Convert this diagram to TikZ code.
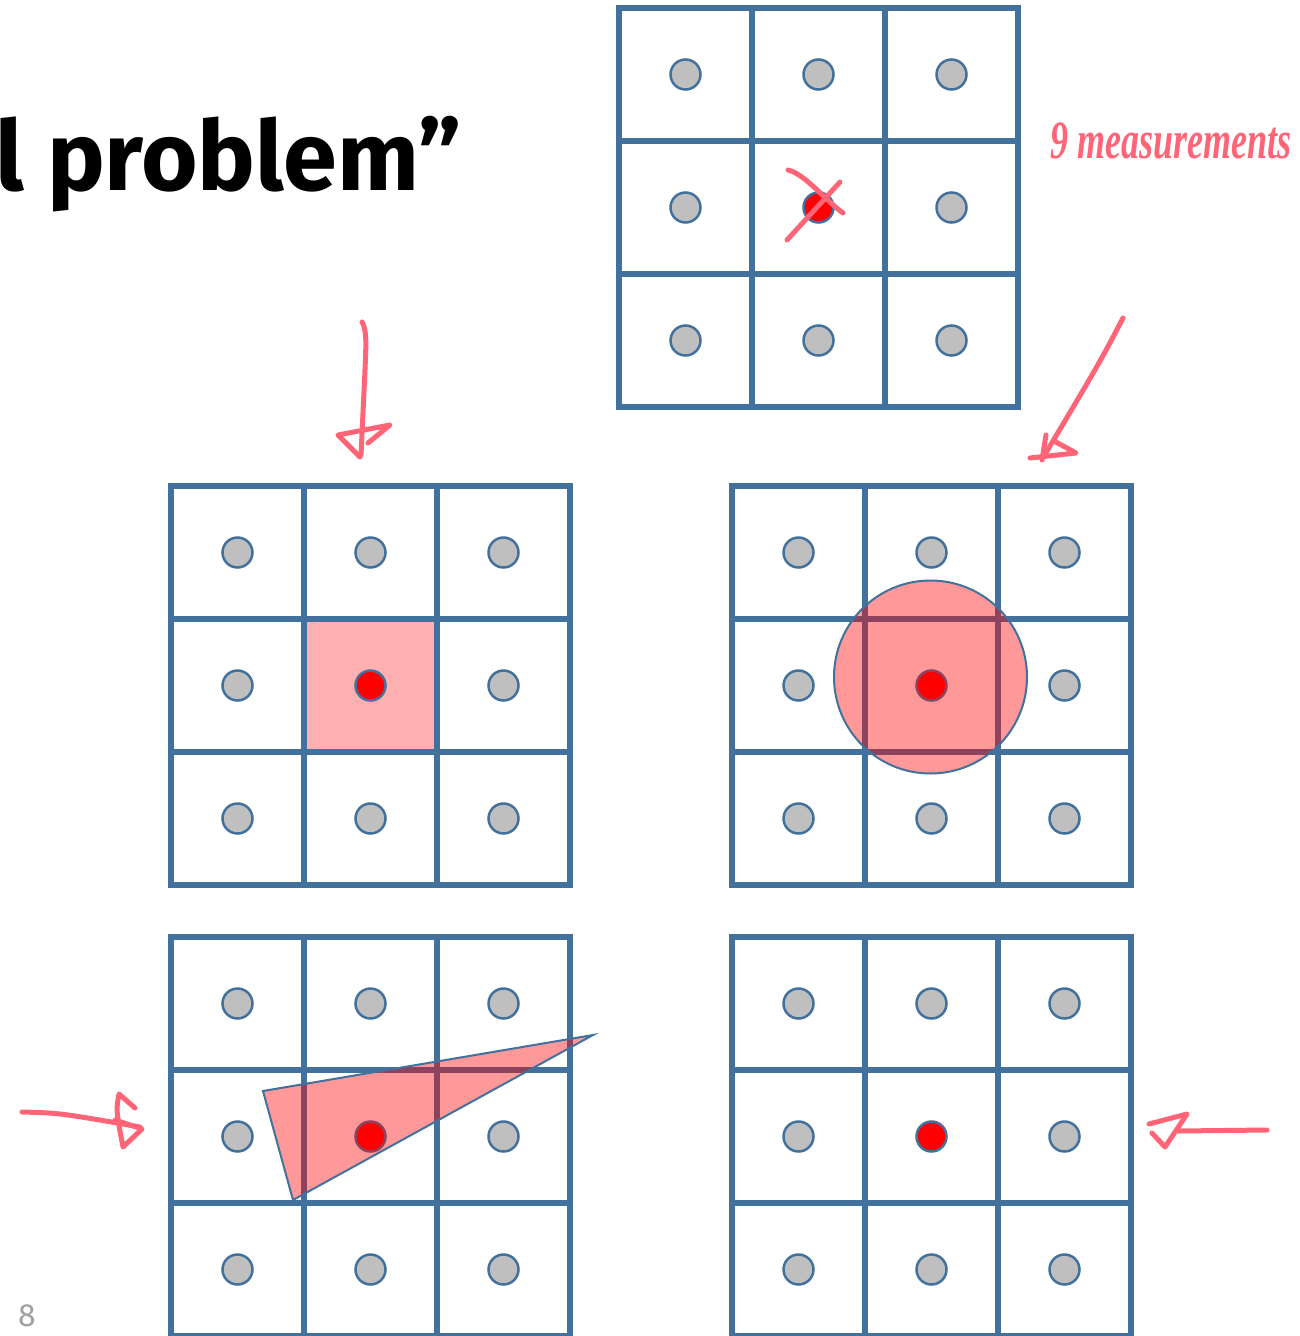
\documentclass[tikz,border=0pt]{standalone}
\usepackage{fontspec}
\setmainfont{Fira Sans}
\newfontfamily\handfont{Liberation Serif}
\definecolor{gridblue}{HTML}{41719C}
\definecolor{dotgray}{HTML}{BFBFBF}
\definecolor{ink}{HTML}{FF6577}
\definecolor{cellpink}{HTML}{FFB0B0}
\definecolor{pagegray}{HTML}{A0A0A0}
\tikzset{
  gridline/.style={draw=gridblue, line width=5.5pt},
  sensor/.style={circle, draw=gridblue, fill=dotgray, line width=2.5pt, minimum size=30pt, inner sep=0pt},
  targetdot/.style={sensor, fill=red},
  inkstroke/.style={draw=ink, line width=5pt, line cap=round, line join=round},
  tintshape/.style={fill=red, fill opacity=0.4, draw=gridblue, line width=2pt},
}
\newcommand\sensorgrid[3]{%
  \draw[gridline] (#2,#3) rectangle (#2+399,#3+399);
  \draw[gridline] (#2+133,#3) -- (#2+133,#3+399);
  \draw[gridline] (#2+266,#3) -- (#2+266,#3+399);
  \draw[gridline] (#2,#3+133) -- (#2+399,#3+133);
  \draw[gridline] (#2,#3+266) -- (#2+399,#3+266);
  \foreach \i in {0,1,2}{\foreach \j in {0,1,2}{%
    \ifnum\i\j=11
      \node[targetdot] (#1-\i\j) at (#2+66.5+133*\i,#3+66.5+133*\j) {};
    \else
      \node[sensor] (#1-\i\j) at (#2+66.5+133*\i,#3+66.5+133*\j) {};
    \fi}}%
}
\begin{document}
\begin{tikzpicture}[x=1pt,y=-1pt]
\useasboundingbox (0,0) rectangle (1299,1336);
\fill[white] (0,0) rectangle (1299,1336);

% title fragment
\node[anchor=base east, inner sep=0pt, font=\fontsize{97}{97}\selectfont\bfseries] (title) at (462,190) {l problem”};
% page number
\node[anchor=base, inner sep=0pt, text=pagegray, font=\fontsize{32}{32}\selectfont] (pagenum) at (27,1326) {8};

% top grid
\sensorgrid{top}{619}{8}
% middle left with highlighted cell
\fill[cellpink] (304,619) rectangle (437,752);
\sensorgrid{ml}{171}{486}
% middle right with circle
\sensorgrid{mr}{732}{486}
\draw[tintshape] (930.5,677) circle[radius=96.5pt];
% bottom left with triangle
\sensorgrid{bl}{171}{937}
\draw[tintshape] (263,1091) -- (593,1035) -- (293,1200) -- cycle;
% bottom right
\sensorgrid{br}{732}{937}

% handwritten annotations
\node[anchor=base west, inner sep=0pt, text=ink, yscale=1.5, font=\handfont\itshape\bfseries\fontsize{36}{36}\selectfont] (note) at (1050,158) {9 measurements};
\draw[inkstroke] (788,170) .. controls (805,174) and (825,200) .. (843,213);
\draw[inkstroke] (840,182) -- (787,240);

\draw[inkstroke] (362,322) .. controls (367,330) and (366,345) .. (365,370) -- (361,455);
\draw[inkstroke] (368,443) -- (390,425) -- (338,435) -- (360,457);

\draw[inkstroke] (1123,318) .. controls (1100,362) .. (1044,456);
\draw[inkstroke] (1046,435) -- (1042,460);
\draw[inkstroke] (1030,458) -- (1076,453) -- (1054,441);

\draw[inkstroke] (22,1112) .. controls (60,1113) .. (140,1127);
\draw[inkstroke] (135,1108) -- (119,1094) .. controls (116,1110) .. (123,1147) -- (142,1129) -- (115,1120);

\draw[inkstroke] (1267,1130) -- (1178,1131);
\draw[inkstroke] (1149,1124) -- (1187,1114) -- (1165,1147) -- (1152,1133);
\end{tikzpicture}
\end{document}
